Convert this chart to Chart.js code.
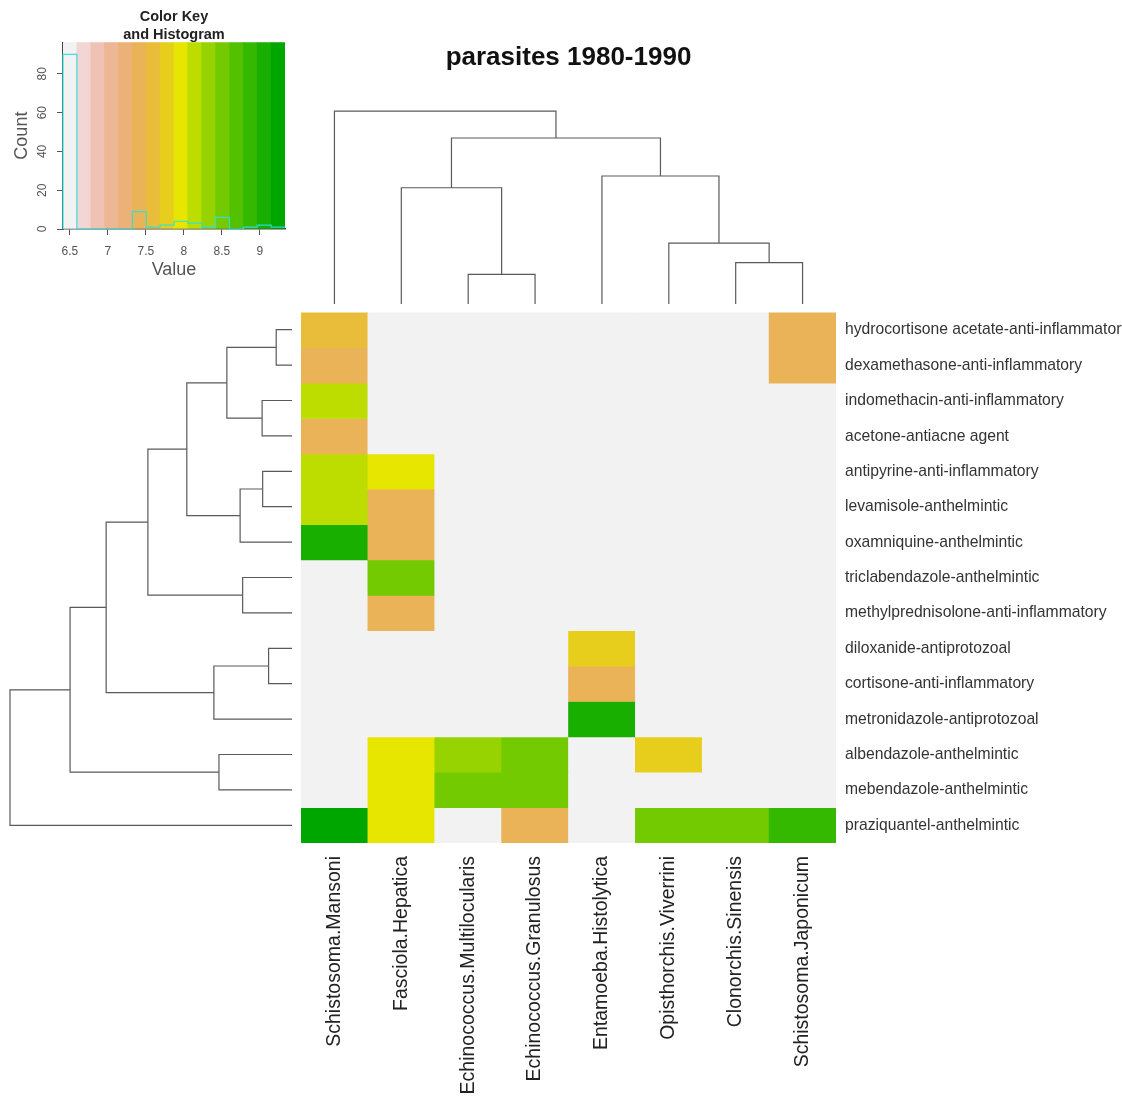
<!DOCTYPE html>
<html>
<head>
<meta charset="utf-8">
<title>parasites 1980-1990</title>
<script src="https://cdn.jsdelivr.net/npm/chart.js@4.4.1/dist/chart.umd.min.js"></script>
<style>
  html, body { margin: 0; padding: 0; background: #fff; }
  #page { position: relative; width: 1122px; height: 1113px; overflow: hidden; background: #fff; }
  #page canvas { position: absolute; }
  #keyChart { left: 0; top: 0; }
  #colDend { left: 301px; top: 0; }
  #rowDend { left: 0; top: 312px; }
  #heatmap { left: 301px; top: 294px; }
</style>
</head>
<body>
<div id="page">
  <canvas id="keyChart" width="300" height="290"></canvas>
  <canvas id="colDend" width="535" height="304"></canvas>
  <canvas id="rowDend" width="301" height="531"></canvas>
  <canvas id="heatmap" width="821" height="819"></canvas>
</div>
<script>
// 列：寄生虫（按聚类后的顺序）
const parasites = [
  'Schistosoma.Mansoni',
  'Fasciola.Hepatica',
  'Echinococcus.Multilocularis',
  'Echinococcus.Granulosus',
  'Entamoeba.Histolytica',
  'Opisthorchis.Viverrini',
  'Clonorchis.Sinensis',
  'Schistosoma.Japonicum',
];

// 行：药物（从上到下）
const drugs = [
  'hydrocortisone acetate-anti-inflammatory',
  'dexamethasone-anti-inflammatory',
  'indomethacin-anti-inflammatory',
  'acetone-antiacne agent',
  'antipyrine-anti-inflammatory',
  'levamisole-anthelmintic',
  'oxamniquine-anthelmintic',
  'triclabendazole-anthelmintic',
  'methylprednisolone-anti-inflammatory',
  'diloxanide-antiprotozoal',
  'cortisone-anti-inflammatory',
  'metronidazole-antiprotozoal',
  'albendazole-anthelmintic',
  'mebendazole-anthelmintic',
  'praziquantel-anthelmintic',
];

// 每行 8 个值，对应 parasites 的顺序
const scores = [
  [7.60, 6.41, 6.41, 6.41, 6.41, 6.41, 6.41, 7.41],
  [7.41, 6.41, 6.41, 6.41, 6.41, 6.41, 6.41, 7.41],
  [8.14, 6.41, 6.41, 6.41, 6.41, 6.41, 6.41, 6.41],
  [7.41, 6.41, 6.41, 6.41, 6.41, 6.41, 6.41, 6.41],
  [8.14, 7.96, 6.41, 6.41, 6.41, 6.41, 6.41, 6.41],
  [8.14, 7.41, 6.41, 6.41, 6.41, 6.41, 6.41, 6.41],
  [9.06, 7.41, 6.41, 6.41, 6.41, 6.41, 6.41, 6.41],
  [6.41, 8.51, 6.41, 6.41, 6.41, 6.41, 6.41, 6.41],
  [6.41, 7.41, 6.41, 6.41, 6.41, 6.41, 6.41, 6.41],
  [6.41, 6.41, 6.41, 6.41, 7.78, 6.41, 6.41, 6.41],
  [6.41, 6.41, 6.41, 6.41, 7.41, 6.41, 6.41, 6.41],
  [6.41, 6.41, 6.41, 6.41, 9.06, 6.41, 6.41, 6.41],
  [6.41, 7.96, 8.33, 8.51, 6.41, 7.78, 6.41, 6.41],
  [6.41, 7.96, 8.51, 8.51, 6.41, 6.41, 6.41, 6.41],
  [9.33, 7.96, 6.41, 7.41, 6.41, 8.51, 8.51, 8.87],
];

// 聚类合并（hclust 风格：负数 = 叶子，正数 = 之前的合并序号）与高度
const colMerges = [
  [-3, -4, 0.154],
  [-7, -8, 0.215],
  [-6, 2, 0.316],
  [-2, 1, 0.603],
  [-5, 3, 0.664],
  [4, 5, 0.861],
  [-1, 6, 1.0],
];
const rowMerges = [
  [-1, -2, 0.056],
  [-3, -4, 0.106],
  [1, 2, 0.231],
  [-5, -6, 0.104],
  [4, -7, 0.184],
  [3, 5, 0.373],
  [-8, -9, 0.175],
  [6, 7, 0.511],
  [-10, -11, 0.083],
  [9, -12, 0.277],
  [8, 10, 0.659],
  [-13, -14, 0.259],
  [11, 12, 0.787],
  [13, -15, 1.0],
];

const keyXTicks = [6.5, 7, 7.5, 8, 8.5, 9];
const keyYTicks = [0, 20, 40, 60, 80];

const FONT = "'Liberation Sans', Arial, Helvetica, sans-serif";
Chart.defaults.font.family = FONT;
Chart.defaults.animation = false;
Chart.defaults.plugins.legend.display = false;
Chart.defaults.plugins.tooltip.enabled = false;

// R 的 terrain.colors(n)
function terrainColors(n) {
  const hsv = (h, s, v) => {
    const i = Math.floor(h * 6) % 6, f = h * 6 - Math.floor(h * 6);
    const p = v * (1 - s), q = v * (1 - f * s), t = v * (1 - (1 - f) * s);
    const [r, g, b] = [[v, t, p], [q, v, p], [p, v, t], [p, q, v], [t, p, v], [v, p, q]][i];
    return `rgb(${Math.round(r * 255)},${Math.round(g * 255)},${Math.round(b * 255)})`;
  };
  const seq = (a, b, len) => Array.from({ length: len }, (_, i) => (len === 1 ? a : a + (b - a) * i / (len - 1)));
  const k = Math.floor(n / 2);
  const h1 = seq(4 / 12, 2 / 12, k), s1 = seq(1, 1, k), v1 = seq(0.65, 0.9, k);
  const h2 = seq(2 / 12, 0, n - k + 1).slice(1), s2 = seq(1, 0, n - k + 1).slice(1), v2 = seq(0.9, 0.95, n - k + 1).slice(1);
  return [...h1.map((h, i) => hsv(h, s1[i], v1[i])), ...h2.map((h, i) => hsv(h, s2[i], v2[i]))];
}

const keyColors = terrainColors(16).reverse();
const allScores = scores.flat();
const lo = Math.min(...allScores);
const hi = Math.max(...allScores);
const binW = (hi - lo) / keyColors.length;
const breaks = keyColors.map((_, i) => lo + i * binW).concat(hi);
const binOf = (v) => Math.min(keyColors.length - 1, Math.floor((v - lo) / binW + 1e-9));
const colorFor = (v) => keyColors[binOf(v)];

const counts = keyColors.map(() => 0);
allScores.forEach((v) => { counts[binOf(v)] += 1; });
const keyYMax = Math.max(...counts) * 1.07;

// ---------- 颜色键 + 直方图 ----------
new Chart(document.getElementById('keyChart'), {
  type: 'bar',
  data: {
    datasets: [
      {
        type: 'line',
        data: [{ x: lo, y: 0 }]
          .concat(counts.map((c, i) => ({ x: breaks[i], y: c })))
          .concat([{ x: hi, y: counts[counts.length - 1] }]),
        stepped: true,
        borderColor: 'rgba(40,225,225,0.9)',
        borderWidth: 1.2,
        pointRadius: 0,
        order: 0,
        clip: false,
      },
      {
        data: keyColors.map((_, i) => ({ x: lo + (i + 0.5) * binW, y: [0, keyYMax] })),
        backgroundColor: keyColors,
        borderWidth: 0,
        barPercentage: 1,
        categoryPercentage: 1,
        order: 1,
      },
    ],
  },
  options: {
    responsive: false,
    layout: { padding: { right: 15 } },
    plugins: {
      title: {
        display: true,
        text: ['Color Key', 'and Histogram'],
        fullSize: false,
        color: '#222',
        font: { size: 14.5, weight: 'bold', lineHeight: 1.25 },
        padding: { top: 8, bottom: -2 },
      },
    },
    scales: {
      x: {
        type: 'linear',
        min: lo,
        max: hi,
        offset: false,
        grid: { display: true, drawOnChartArea: false, offset: false, tickLength: 6, color: '#555' },
        border: { display: true, color: '#444', width: 1.5 },
        afterBuildTicks: (s) => { s.ticks = keyXTicks.map((v) => ({ value: v })); },
        ticks: { padding: 9, color: '#555', font: { size: 12 }, callback: (v) => `${v}` },
        title: { display: true, text: 'Value', color: '#555', font: { size: 18 }, padding: { top: 0, bottom: 9 } },
        afterFit: (s) => { s.height = 61; },
      },
      y: {
        type: 'linear',
        min: 0,
        max: keyYMax,
        grid: { display: true, drawOnChartArea: false, tickLength: 6, color: '#555' },
        border: { display: true, color: '#444', width: 1.5 },
        afterBuildTicks: (s) => { s.ticks = keyYTicks.map((v) => ({ value: v })); },
        ticks: { minRotation: 90, maxRotation: 90, crossAlign: 'center', padding: 8, color: '#555', font: { size: 12 } },
        title: { display: true, text: 'Count', color: '#555', font: { size: 18 }, padding: { top: 11, bottom: 0 } },
        afterFit: (s) => { s.width = 63; },
      },
    },
  },
});

// ---------- 树状图 ----------
function dendroSegments(merges) {
  const pos = [], hgt = [];
  const node = (id) => (id < 0 ? { p: -id - 1 + 0.5, h: 0 } : { p: pos[id - 1], h: hgt[id - 1] });
  return merges.map(([a, b, h], i) => {
    const A = node(a), B = node(b);
    pos[i] = (A.p + B.p) / 2;
    hgt[i] = h;
    return [[A.p, A.h], [A.p, h], [B.p, h], [B.p, B.h]];
  });
}

const lineStyle = { showLine: true, pointRadius: 0, borderColor: '#5a5a5a', borderWidth: 1.2, clip: false };

new Chart(document.getElementById('colDend'), {
  type: 'scatter',
  data: {
    datasets: dendroSegments(colMerges).map((seg) => ({
      ...lineStyle,
      data: seg.map(([p, h]) => ({ x: p, y: h })),
    })),
  },
  options: {
    responsive: false,
    plugins: {
      title: {
        display: true,
        text: 'parasites 1980-1990',
        color: '#111',
        font: { size: 26, weight: 'bold', lineHeight: 1.2 },
        padding: { top: 42, bottom: 38 },
      },
    },
    scales: {
      x: { type: 'linear', min: 0, max: parasites.length, display: false },
      y: { type: 'linear', min: 0, max: 1, display: false },
    },
  },
});

new Chart(document.getElementById('rowDend'), {
  type: 'scatter',
  data: {
    datasets: dendroSegments(rowMerges).map((seg) => ({
      ...lineStyle,
      data: seg.map(([p, h]) => ({ x: h, y: p })),
    })),
  },
  options: {
    responsive: false,
    layout: { padding: { left: 10, right: 9 } },
    scales: {
      x: { type: 'linear', min: 0, max: 1, reverse: true, display: false },
      y: { type: 'linear', min: 0, max: drugs.length, reverse: true, display: false },
    },
  },
});

// ---------- 热图 ----------
new Chart(document.getElementById('heatmap'), {
  type: 'bar',
  data: {
    labels: parasites,
    datasets: drugs.map((d, r) => ({
      label: d,
      data: parasites.map(() => [r, r + 1]),
      backgroundColor: scores[r].map(colorFor),
      borderWidth: 0,
      grouped: false,
      barPercentage: 1,
      categoryPercentage: 1,
    })),
  },
  options: {
    responsive: false,
    scales: {
      x: {
        grid: { display: false, drawTicks: false },
        border: { display: false },
        ticks: {
          autoSkip: false,
          minRotation: 90,
          maxRotation: 90,
          padding: 13,
          color: '#222',
          font: { size: 19.5 },
        },
        afterFit: (s) => { s.height = 270; },
      },
      y: {
        type: 'linear',
        position: 'right',
        min: 0,
        max: drugs.length,
        reverse: true,
        grid: { display: false, drawTicks: false },
        border: { display: false },
        afterBuildTicks: (s) => { s.ticks = drugs.map((_, i) => ({ value: i + 0.5 })); },
        ticks: {
          autoSkip: false,
          padding: 9,
          color: '#333',
          font: { size: 15.7 },
          callback: (v) => drugs[Math.floor(v)],
        },
        afterFit: (s) => { s.width = 286; },
      },
    },
  },
});
</script>
</body>
</html>
